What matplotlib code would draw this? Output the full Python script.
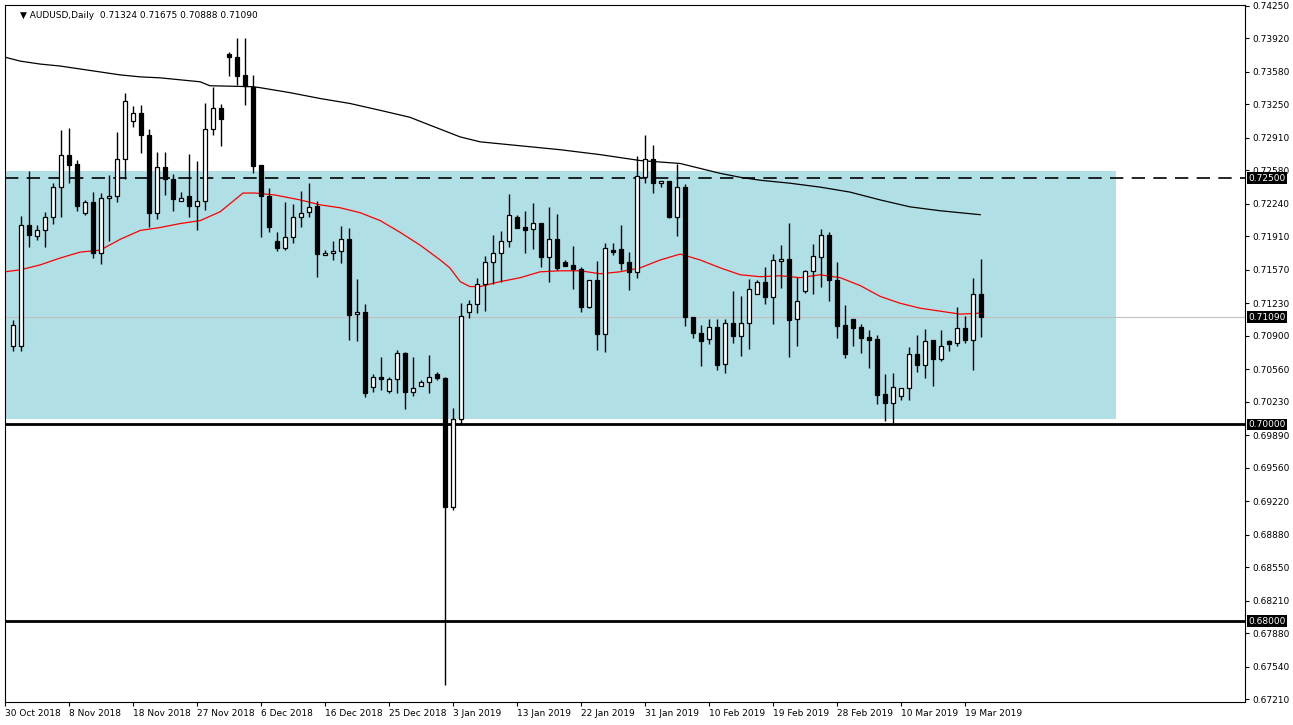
import matplotlib
matplotlib.use("Agg")
import matplotlib.pyplot as plt
from matplotlib.patches import Rectangle

# daily AUDUSD candles
opens = [0.7080, 0.7080, 0.7203, 0.7191, 0.7197, 0.7211, 0.7241, 0.7274, 0.7264, 0.7215,
         0.7226, 0.7174, 0.7230, 0.7232, 0.7270, 0.7308, 0.7316, 0.7294, 0.7215, 0.7261,
         0.7249, 0.7227, 0.7232, 0.7222, 0.7227, 0.7300, 0.7321, 0.7376, 0.7373, 0.7355,
         0.7343, 0.7263, 0.7232, 0.7186, 0.7179, 0.7190, 0.7211, 0.7216, 0.7222, 0.7172,
         0.7174, 0.7176, 0.7188, 0.7112, 0.7114, 0.7038, 0.7048, 0.7034, 0.7046, 0.7073,
         0.7033, 0.7039, 0.7043, 0.7051, 0.7047, 0.6916, 0.7005, 0.7114, 0.7122, 0.7143,
         0.7165, 0.7174, 0.7186, 0.7211, 0.7200, 0.7198, 0.7205, 0.7170, 0.7188, 0.7165,
         0.7162, 0.7158, 0.7119, 0.7147, 0.7092, 0.7177, 0.7178, 0.7165, 0.7155, 0.7251,
         0.7270, 0.7245, 0.7247, 0.7211, 0.7241, 0.7109, 0.7093, 0.7087, 0.7099, 0.7061,
         0.7103, 0.7090, 0.7103, 0.7132, 0.7145, 0.7129, 0.7166, 0.7168, 0.7107, 0.7135,
         0.7156, 0.7170, 0.7192, 0.7147, 0.7101, 0.7107, 0.7099, 0.7089, 0.7087, 0.7031,
         0.7022, 0.7029, 0.7037, 0.7071, 0.7060, 0.7086, 0.7066, 0.7085, 0.7083, 0.7098,
         0.7086, 0.71324]
highs = [0.7106, 0.7212, 0.7257, 0.7203, 0.7216, 0.7245, 0.7299, 0.7301, 0.7269, 0.7228,
         0.7236, 0.7235, 0.7253, 0.7297, 0.7337, 0.7323, 0.7324, 0.7300, 0.7277, 0.7277,
         0.7254, 0.7236, 0.7275, 0.7268, 0.7326, 0.7343, 0.7325, 0.7378, 0.7392, 0.7392,
         0.7355, 0.7263, 0.7240, 0.7195, 0.7226, 0.7224, 0.7237, 0.7245, 0.7227, 0.7177,
         0.7186, 0.7202, 0.7199, 0.7148, 0.7122, 0.7051, 0.7068, 0.7048, 0.7076, 0.7074,
         0.7068, 0.7045, 0.7070, 0.7053, 0.7048, 0.7017, 0.7123, 0.7126, 0.7149, 0.7171,
         0.7192, 0.7196, 0.7234, 0.7213, 0.7217, 0.7225, 0.7205, 0.7221, 0.7214, 0.7167,
         0.7181, 0.7160, 0.7147, 0.7166, 0.7184, 0.7184, 0.7203, 0.7175, 0.7273, 0.7294,
         0.7284, 0.7247, 0.7247, 0.7264, 0.7244, 0.7109, 0.7101, 0.7107, 0.7107, 0.7107,
         0.7135, 0.7130, 0.7148, 0.7147, 0.7160, 0.7173, 0.7182, 0.7205, 0.7150, 0.7157,
         0.7183, 0.7198, 0.7195, 0.7165, 0.7121, 0.7107, 0.7102, 0.7096, 0.7091, 0.7051,
         0.7052, 0.7037, 0.7079, 0.7091, 0.7097, 0.7086, 0.7096, 0.7086, 0.7119, 0.7110,
         0.7149, 0.71675]
lows = [0.7075, 0.7075, 0.7180, 0.7187, 0.7180, 0.7204, 0.7211, 0.7245, 0.7217, 0.7213,
        0.7169, 0.7163, 0.7186, 0.7226, 0.7249, 0.7302, 0.7276, 0.7200, 0.7209, 0.7233,
        0.7217, 0.7227, 0.7211, 0.7197, 0.7218, 0.7294, 0.7283, 0.7354, 0.7345, 0.7324,
        0.7255, 0.7190, 0.7195, 0.7176, 0.7177, 0.7184, 0.7200, 0.7211, 0.7150, 0.7172,
        0.7167, 0.7164, 0.7086, 0.7085, 0.7028, 0.7033, 0.7035, 0.7032, 0.7032, 0.7016,
        0.7029, 0.7039, 0.7032, 0.7045, 0.6735, 0.6913, 0.6999, 0.7108, 0.7113, 0.7115,
        0.7143, 0.7145, 0.7180, 0.7199, 0.7174, 0.7178, 0.7160, 0.7145, 0.7157, 0.7161,
        0.7138, 0.7114, 0.7118, 0.7076, 0.7074, 0.7172, 0.7157, 0.7136, 0.7149, 0.7245,
        0.7235, 0.7241, 0.7210, 0.7191, 0.7100, 0.7088, 0.7059, 0.7082, 0.7055, 0.7052,
        0.7083, 0.7069, 0.7077, 0.7132, 0.7122, 0.7102, 0.7139, 0.7068, 0.7080, 0.7133,
        0.7132, 0.7140, 0.7125, 0.7088, 0.7067, 0.7080, 0.7073, 0.7057, 0.7021, 0.7003,
        0.7001, 0.7025, 0.7025, 0.7053, 0.7047, 0.7039, 0.7064, 0.7075, 0.7080, 0.7083,
        0.7055, 0.70888]
closes = [0.7101, 0.7203, 0.7192, 0.7197, 0.7211, 0.7241, 0.7274, 0.7263, 0.7222, 0.7226,
          0.7174, 0.7230, 0.7232, 0.7270, 0.7328, 0.7316, 0.7294, 0.7215, 0.7261, 0.7249,
          0.7229, 0.7230, 0.7222, 0.7227, 0.7300, 0.7321, 0.7310, 0.7373, 0.7354, 0.7344,
          0.7262, 0.7232, 0.7200, 0.7179, 0.7190, 0.7211, 0.7215, 0.7221, 0.7173, 0.7174,
          0.7176, 0.7188, 0.7111, 0.7114, 0.7032, 0.7048, 0.7046, 0.7046, 0.7073, 0.7033,
          0.7037, 0.7043, 0.7048, 0.7047, 0.6916, 0.7005, 0.7110, 0.7122, 0.7143, 0.7165,
          0.7174, 0.7186, 0.7213, 0.7199, 0.7197, 0.7205, 0.7170, 0.7188, 0.7159, 0.7161,
          0.7158, 0.7119, 0.7147, 0.7092, 0.7179, 0.7175, 0.7164, 0.7155, 0.7252, 0.7270,
          0.7245, 0.7247, 0.7211, 0.7241, 0.7109, 0.7093, 0.7085, 0.7099, 0.7060, 0.7103,
          0.7090, 0.7103, 0.7138, 0.7145, 0.7129, 0.7167, 0.7168, 0.7106, 0.7125, 0.7156,
          0.7171, 0.7192, 0.7147, 0.7100, 0.7072, 0.7098, 0.7088, 0.7086, 0.7030, 0.7022,
          0.7038, 0.7037, 0.7071, 0.7060, 0.7085, 0.7066, 0.7080, 0.7082, 0.7098, 0.7086,
          0.7132, 0.71090]

# moving averages (bar position, price)
fast_idx = [-1, 0.9, 3.4, 5.9, 8.4, 10.9, 13.4, 15.9, 18.4, 20.9, 23.4, 25.9, 28.75, 30.25,
            32.75, 35.9, 38.4, 40.9, 43.4, 45.9, 48.4, 50.9, 53.4, 54.6, 55.9, 57.1, 58.4,
            60.9, 63.4, 65.9, 68.4, 70.9, 73.4, 75.9, 78.4, 80.9, 83.4, 85.9, 88.4, 90.9,
            93.4, 95.9, 98.4, 100.9, 103.4, 105.9, 108.4, 110.9, 113.4, 115.9, 118.4, 120.9]
fast_ma = [0.7155, 0.7157, 0.7162, 0.7169, 0.7175, 0.7177, 0.7188, 0.7197, 0.7200, 0.7204,
           0.7207, 0.7216, 0.7235, 0.7235, 0.7233, 0.7228, 0.7223, 0.7220, 0.7215, 0.7207,
           0.7195, 0.7182, 0.7167, 0.7159, 0.7145, 0.7140, 0.7140, 0.7145, 0.7149, 0.7155,
           0.7156, 0.7156, 0.7153, 0.7155, 0.7159, 0.7167, 0.7173, 0.7167, 0.7159, 0.7152,
           0.7150, 0.7151, 0.7149, 0.7152, 0.7149, 0.7141, 0.7130, 0.7123, 0.7118, 0.7115,
           0.7112, 0.7113]
slow_idx = [-1, 0.9, 3.4, 5.9, 8.4, 10.9, 13.4, 15.9, 18.4, 20.9, 23.4, 24.6, 30, 30.9, 34.6,
            38.4, 42.1, 45.9, 49.6, 52.1, 55.9, 58.4, 63.4, 68.4, 73.4, 78.4, 83.4, 85.9,
            88.4, 90.9, 93.4, 97.1, 100.9, 104.6, 108.4, 112.1, 115.9, 118.4, 120.9]
slow_ma = [0.7373, 0.7369, 0.7366, 0.7364, 0.7361, 0.7358, 0.7355, 0.7353, 0.7352, 0.7350,
           0.7348, 0.7344, 0.7343, 0.7342, 0.7337, 0.7331, 0.7326, 0.7319, 0.7312, 0.7304,
           0.7292, 0.7287, 0.7283, 0.7279, 0.7274, 0.7268, 0.7265, 0.7260, 0.7255, 0.7251,
           0.7248, 0.7245, 0.7241, 0.7236, 0.7228, 0.7221, 0.7217, 0.7215, 0.7213]

zone_top, zone_bottom = 0.7257, 0.7005
resistance = 0.7250
supports = [0.7000, 0.6800]
last_price = 0.71090

y_ticks = [0.74250, 0.73920, 0.73580, 0.73250, 0.72910, 0.72580, 0.72240, 0.71910, 0.71570,
           0.71230, 0.70900, 0.70560, 0.70230, 0.69890, 0.69560, 0.69220, 0.68880, 0.68550,
           0.68210, 0.67880, 0.67540, 0.67210]
x_labels = ["30 Oct 2018", "8 Nov 2018", "18 Nov 2018", "27 Nov 2018", "6 Dec 2018",
            "16 Dec 2018", "25 Dec 2018", "3 Jan 2019", "13 Jan 2019", "22 Jan 2019",
            "31 Jan 2019", "10 Feb 2019", "19 Feb 2019", "28 Feb 2019", "10 Mar 2019",
            "19 Mar 2019"]

fig = plt.figure(figsize=(12.93, 7.25), dpi=100)
ax = fig.add_axes([5 / 1293, 23 / 725, 1240 / 1293, 697 / 725])
ax.set_xlim(-1, 154)
ax.set_ylim(0.67180, 0.74260)

ax.add_patch(Rectangle((-1, zone_bottom), 138.9, zone_top - zone_bottom,
                       facecolor="#b0dfe5", edgecolor="none", zorder=0))
ax.axhline(resistance, color="black", linewidth=1.2, dashes=(8, 5), zorder=1)
for s in supports:
    ax.axhline(s, color="black", linewidth=2, zorder=1)
ax.axhline(last_price, color="#c0c0c0", linewidth=0.8, zorder=1)

ax.plot(slow_idx, slow_ma, color="black", linewidth=0.9, zorder=2)
ax.plot(fast_idx, fast_ma, color="red", linewidth=0.9, zorder=2)

for i, (o, h, l, c) in enumerate(zip(opens, highs, lows, closes)):
    ax.vlines(i, l, h, color="black", linewidth=1, zorder=3)
    bottom = min(o, c)
    height = max(abs(c - o), 0.00003)
    face = "white" if c >= o else "black"
    ax.add_patch(Rectangle((i - 0.3, bottom), 0.6, height, facecolor=face,
                           edgecolor="black", linewidth=0.9, zorder=4))

ax.yaxis.tick_right()
ax.set_yticks(y_ticks, [f"{t:.5f}" for t in y_ticks])
ax.set_xticks([8 * k - 1 for k in range(len(x_labels))], x_labels)
ax.tick_params(axis="both", labelsize=6.5, length=3, pad=2)
for lbl in ax.get_xticklabels():
    lbl.set_horizontalalignment("left")

for price in [resistance, last_price] + supports:
    ax.text(1.003, price, f"{price:.5f}", transform=ax.get_yaxis_transform(),
            fontsize=6.5, color="white", va="center", ha="left",
            bbox=dict(facecolor="black", edgecolor="none", pad=1.0), clip_on=False, zorder=10)

ax.text(0.012, 0.992, "\u25BC AUDUSD,Daily  0.71324 0.71675 0.70888 0.71090",
        transform=ax.transAxes, fontsize=6.5, va="top", ha="left")

fig.savefig("out.png", dpi=100)
